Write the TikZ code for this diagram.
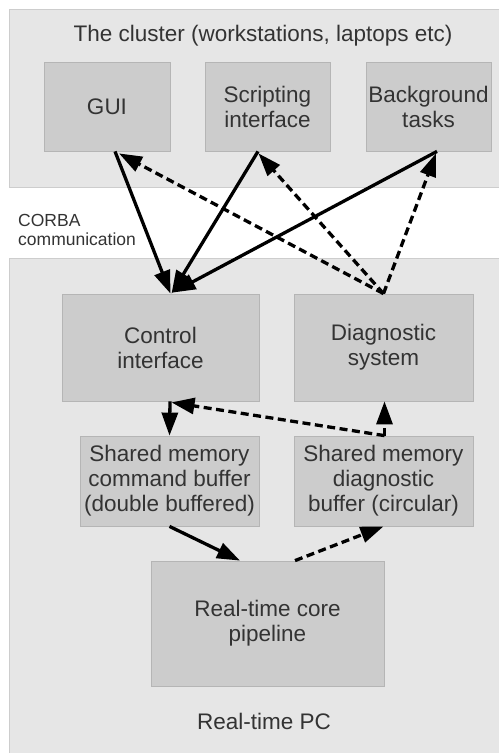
\documentclass[tikz,border=0pt]{standalone}
\usepackage{fontspec}
\setmainfont{Liberation Sans}
\usetikzlibrary{arrows.meta,calc}
\definecolor{outerfill}{HTML}{E6E6E6}
\definecolor{outerline}{HTML}{CDCDCD}
\definecolor{boxfill}{HTML}{CCCCCC}
\definecolor{boxline}{HTML}{B5B5B5}
\definecolor{txt}{HTML}{333333}
\begin{document}
\begin{tikzpicture}[x=1pt,y=-1pt,
  box/.style={draw=boxline,fill=boxfill,line width=0.8pt,inner sep=0pt,align=center,
    text=txt,font=\fontsize{22.5}{25}\selectfont},
  lbl/.style={text=txt,inner sep=0pt},
  conn/.style={line width=3.3pt,-{Triangle[length=23pt,width=16pt]}},
  dconn/.style={conn,dash pattern=on 8pt off 4.5pt}]
\useasboundingbox (0,0) rectangle (499,753);
\fill[white] (0,0) rectangle (499,753);
% outer regions
\fill[outerfill] (9,9) rectangle (499,187);
\draw[outerline,line width=0.8pt] (499,9) -- (9,9) -- (9,187) -- (499,187);
\fill[outerfill] (9,258) rectangle (499,753);
\draw[outerline,line width=0.8pt] (499,258) -- (9,258) -- (9,753);
\node[lbl,font=\fontsize{22.5}{25}\selectfont] (cluster) at (263,36) {The cluster (workstations, laptops etc)};
\node[lbl,font=\fontsize{17.5}{19.5}\selectfont,align=left,anchor=west] (corba) at (18,230) {CORBA\\communication};
\node[lbl,font=\fontsize{22.5}{25}\selectfont] (rtpc) at (264,721) {Real-time PC};
% boxes
\node[box,minimum width=126pt,minimum height=89pt] (gui) at (107,106.5) {GUI};
\node[box,minimum width=125pt,minimum height=89pt] (script) at (267.5,106.5) {Scripting\\interface};
\node[box,minimum width=125pt,minimum height=89pt] (bg) at (428.5,106.5) {Background\\tasks};
\node[box,minimum width=197pt,minimum height=107pt] (ctrl) at (160.5,347.5) {Control\\interface};
\node[box,minimum width=179pt,minimum height=107pt] (diag) at (383.5,347.5) {Diagnostic\\system};
\node[box,minimum width=179pt,minimum height=90pt] (cmd) at (169.5,481) {Shared memory\\command buffer\\(double buffered)};
\node[box,minimum width=179pt,minimum height=90pt] (dbuf) at (383.5,481) {Shared memory\\diagnostic\\buffer (circular)};
\node[box,minimum width=233pt,minimum height=125pt] (core) at (267.5,623.5) {Real-time core\\pipeline};
% CORBA connectors
\draw[conn] ($(gui.south)+(8,0)$) -- ($(ctrl.north)+(10,0)$);
\draw[conn] ($(script.south)+(-9.5,0)$) -- ($(ctrl.north)+(11,0)$);
\draw[conn] ($(bg.south)+(8.5,0)$) -- ($(ctrl.north)+(12,-1)$);
\draw[dconn] (diag.north) -- ($(gui.south)+(12,2)$);
\draw[dconn] (diag.north) -- ($(script.south)+(-9,2)$);
\draw[dconn] (diag.north) -- ($(bg.south)+(7.5,2)$);
% local connectors
\draw[conn] ($(ctrl.south)+(9.5,0)$) -- (cmd.north);
\draw[dconn] ($(dbuf.north)+(1,0)$) -- ($(ctrl.south)+(11,1)$);
\draw[dconn] ($(dbuf.north)+(1,0)$) -- ($(diag.south)+(1,0)$);
\draw[conn] (cmd.south) -- ($(core.north)+(-27.5,0)$);
\draw[dconn] ($(core.north)+(27.5,0)$) -- (dbuf.south);
\end{tikzpicture}
\end{document}
